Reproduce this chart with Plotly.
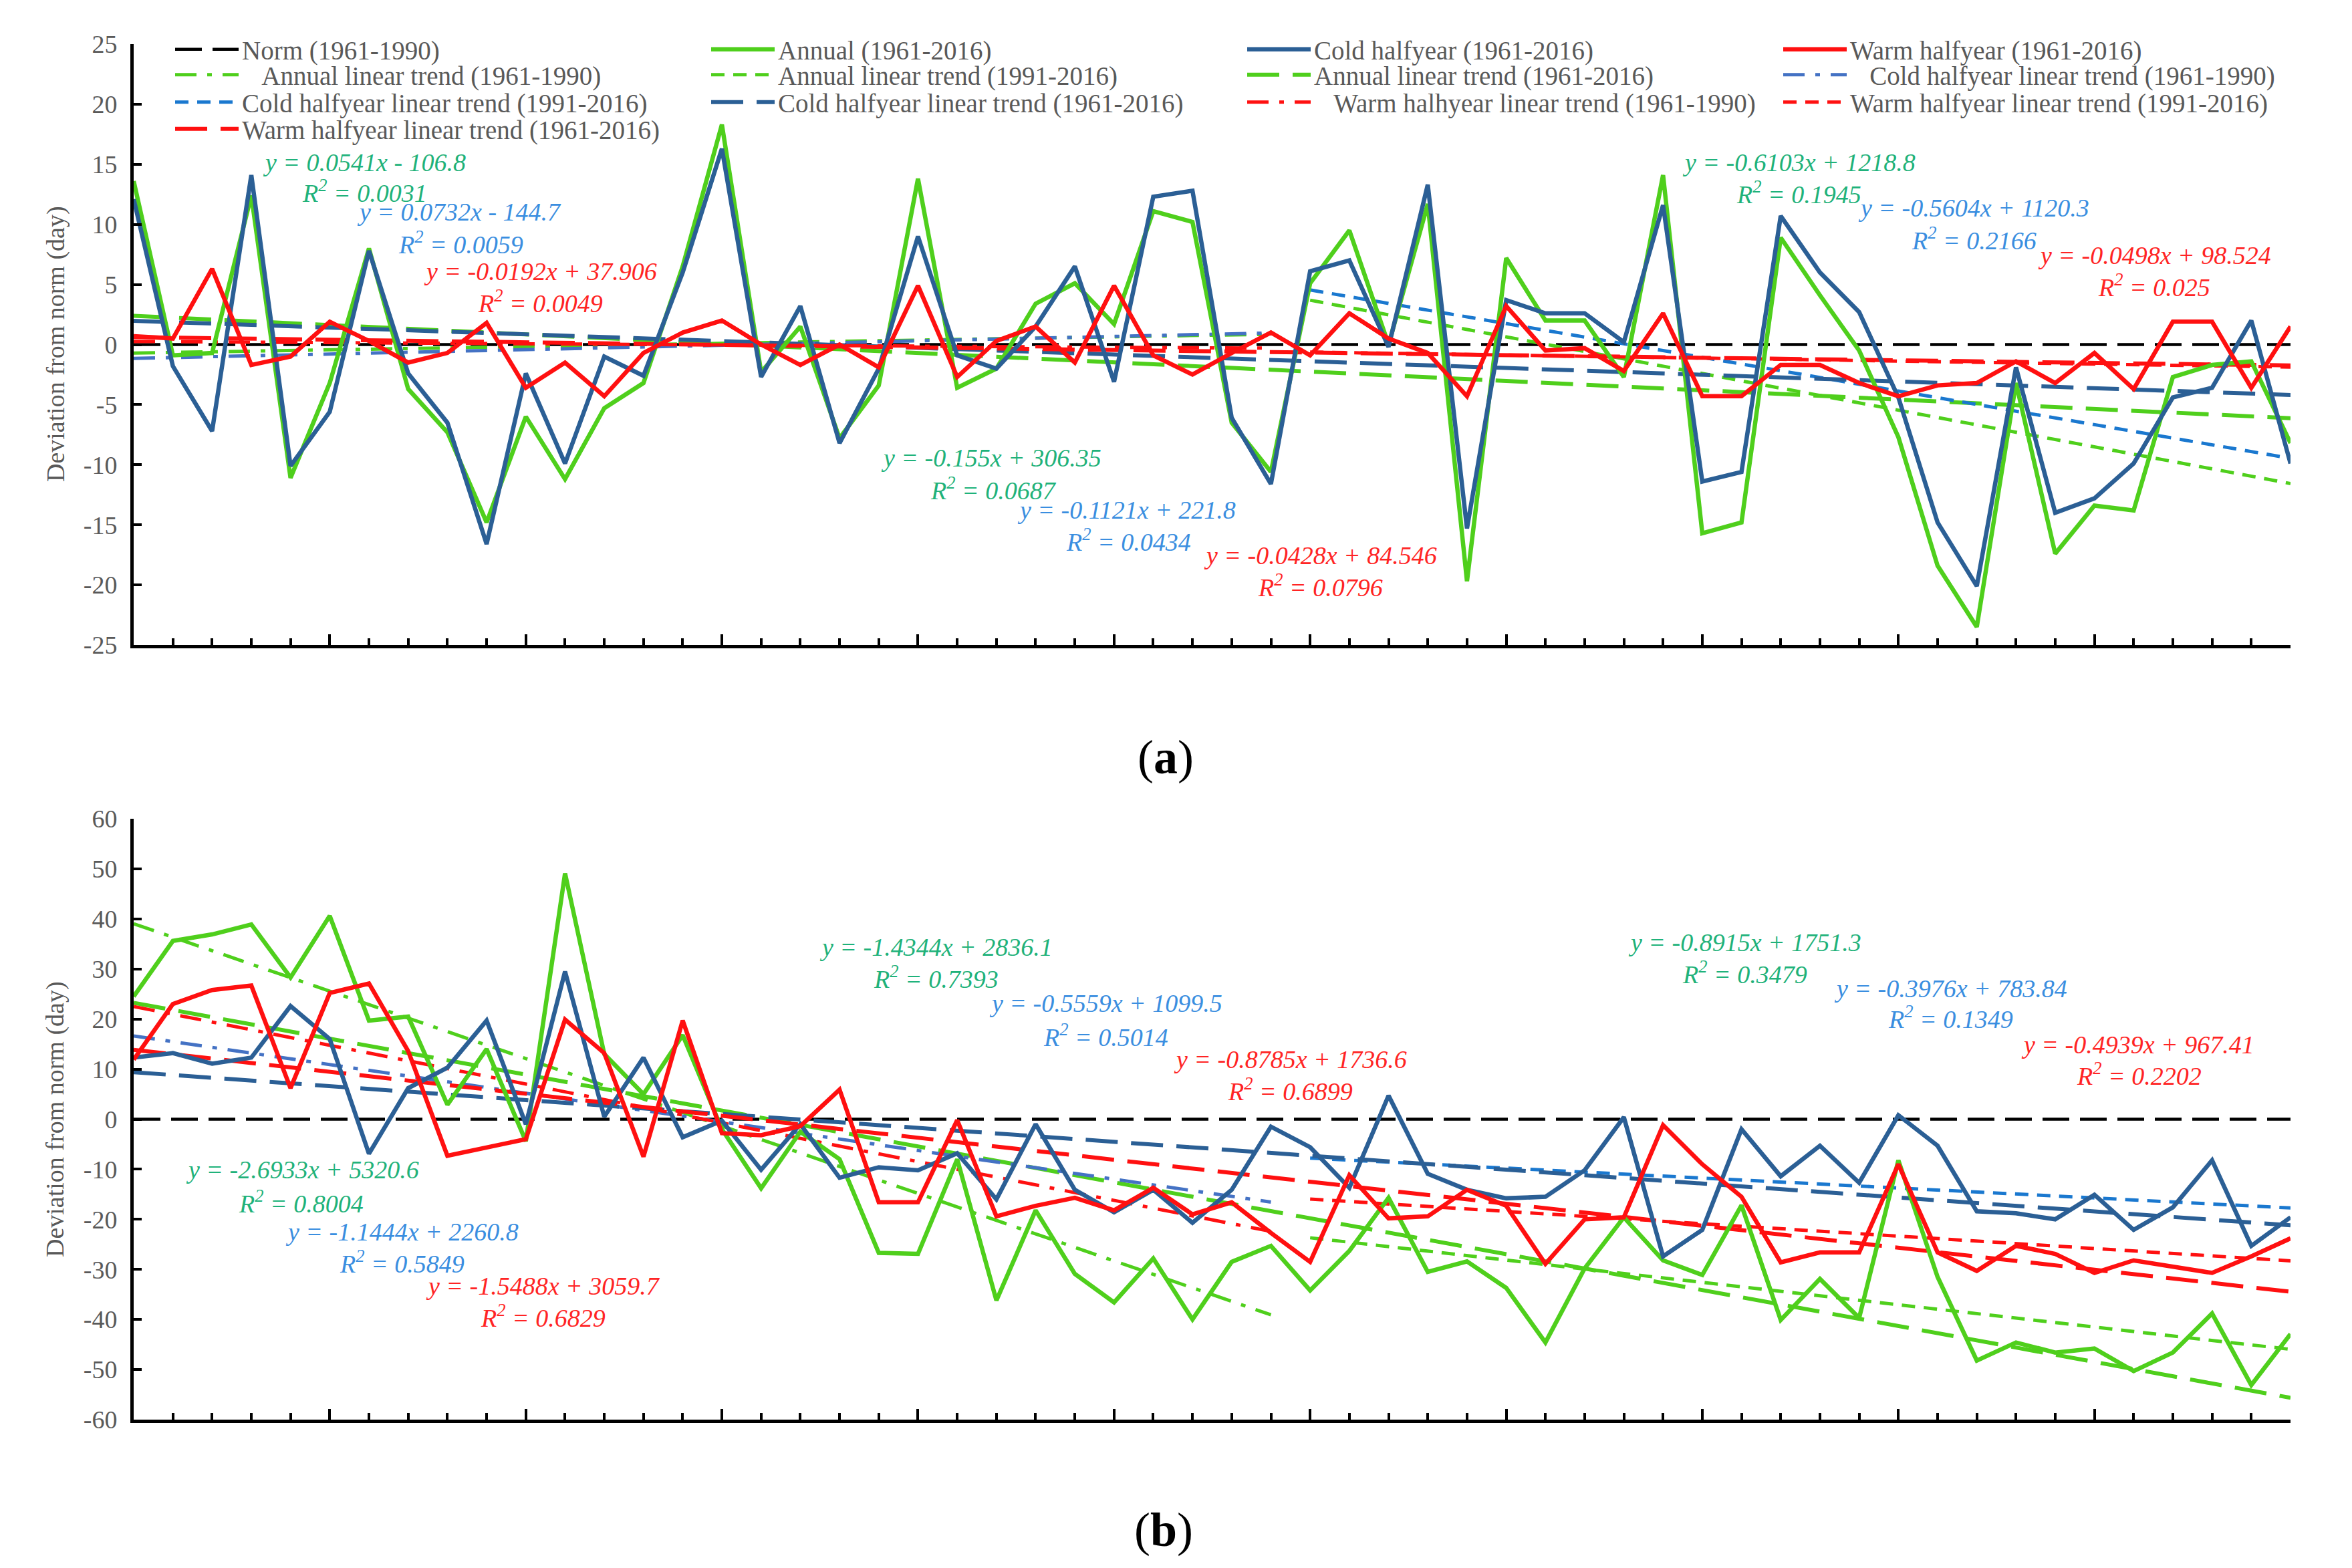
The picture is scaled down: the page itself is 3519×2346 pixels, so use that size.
import plotly.graph_objects as go

W, H = 3519, 2346

years = list(range(1961, 2017))

# ---------------- Panel (a) data ----------------
annual_a = [13.6, -0.9, -0.7, 12.4, -11.1, -3.2, 8.0, -3.7, -7.3, -14.8,
            -6.0, -11.2, -5.3, -3.2, 6.5, 18.3, -2.3, 1.5, -7.8, -3.4,
            13.8, -3.6, -2.0, 3.4, 5.1, 1.7, 11.1, 10.2, -6.5, -10.6,
            5.1, 9.5, 0.0, 11.7, -19.7, 7.2, 2.0, 2.0, -2.7, 14.1,
            -15.7, -14.8, 8.9, 4.1, -0.5, -7.7, -18.4, -23.5, -3.2, -17.4,
            -13.4, -13.8, -2.7, -1.7, -1.4, -8.2]
cold_a = [12.1, -1.8, -7.2, 14.1, -10.1, -5.6, 7.8, -2.4, -6.5, -16.6,
          -2.4, -9.9, -1.0, -2.6, 6.0, 16.3, -2.7, 3.2, -8.2, -2.0,
          9.0, -0.9, -2.0, 1.5, 6.5, -3.1, 12.3, 12.8, -6.1, -11.6,
          6.1, 7.0, -0.2, 13.3, -15.3, 3.7, 2.6, 2.6, 0.2, 11.6,
          -11.4, -10.6, 10.7, 6.0, 2.7, -4.4, -14.8, -20.1, -1.9, -14.0,
          -12.8, -9.9, -4.4, -3.6, 2.0, -9.9]
warm_a = [0.7, 0.5, 6.3, -1.7, -1.0, 1.9, 0.3, -1.5, -0.7, 1.8,
          -3.6, -1.5, -4.3, -0.7, 1.0, 2.0, 0.0, -1.7, 0.0, -1.9,
          4.9, -2.7, 0.3, 1.5, -1.5, 4.9, -0.9, -2.5, -0.7, 1.0,
          -0.9, 2.6, 0.5, -0.7, -4.3, 3.2, -0.5, -0.3, -2.2, 2.6,
          -4.3, -4.3, -1.7, -1.7, -3.2, -4.3, -3.4, -3.2, -1.4, -3.2,
          -0.7, -3.7, 1.9, 1.9, -3.6, 1.5]

# ---------------- Panel (b) data ----------------
annual_b = [24.5, 35.6, 36.9, 38.9, 28.3, 40.6, 19.7, 20.5, 2.9, 14.0,
            -4.4, 49.1, 13.0, 5.0, 16.8, -2.0, -13.8, -2.5, -8.0, -26.7,
            -26.9, -8.0, -36.2, -18.2, -30.9, -36.6, -27.8, -40.0, -28.5, -25.3,
            -34.2, -26.3, -15.7, -30.5, -28.4, -33.7, -44.6, -29.8, -19.6, -28.2,
            -31.1, -17.2, -40.1, -31.9, -39.7, -8.2, -31.5, -48.2, -44.6, -46.6,
            -45.8, -50.3, -46.6, -38.8, -53.1, -42.9]
cold_b = [12.3, 13.2, 11.1, 12.3, 22.6, 16.0, -6.9, 6.2, 10.3, 19.7,
          -1.0, 29.5, 0.5, 12.3, -3.6, -0.3, -10.1, -1.0, -11.7, -9.6,
          -10.2, -6.8, -16.0, -1.0, -14.1, -18.6, -14.1, -20.7, -14.1, -1.5,
          -5.6, -13.7, 4.7, -10.9, -14.1, -15.8, -15.5, -10.2, 0.4, -27.4,
          -22.1, -2.0, -11.4, -5.3, -12.7, 0.8, -5.3, -18.4, -18.8, -20.0,
          -15.1, -22.1, -17.6, -8.2, -25.3, -19.6]
warm_b = [11.9, 23.0, 25.8, 26.7, 6.2, 25.2, 27.1, 13.6, -7.3, -5.6,
          -4.0, 19.9, 13.2, -7.5, 19.7, -2.8, -3.2, -1.4, 5.9, -16.6,
          -16.6, -0.2, -19.4, -17.3, -15.7, -18.2, -13.7, -19.0, -16.6, -22.7,
          -28.5, -11.2, -19.8, -19.4, -14.1, -17.3, -28.9, -20.0, -19.6, -1.2,
          -9.0, -15.5, -28.6, -26.6, -26.6, -9.0, -26.6, -30.3, -25.3, -26.9,
          -30.7, -28.2, -29.4, -30.7, -27.4, -23.8]

# ---------------- Trend lines (slope, intercept, R2) ----------------
# order of periods: 1961-1990, 1991-2016, 1961-2016
periods = [(1961, 1990), (1991, 2016), (1961, 2016)]
a_annual_slope = [0.0541, -0.6103, -0.155]
a_annual_icpt = [-106.8, 1218.8, 306.35]
a_annual_r2 = ["0.0031", "0.1945", "0.0687"]
a_cold_slope = [0.0732, -0.5604, -0.1121]
a_cold_icpt = [-144.7, 1120.3, 221.8]
a_cold_r2 = ["0.0059", "0.2166", "0.0434"]
a_warm_slope = [-0.0192, -0.0498, -0.0428]
a_warm_icpt = [37.906, 98.524, 84.546]
a_warm_r2 = ["0.0049", "0.025", "0.0796"]

b_annual_slope = [-2.6933, -0.8915, -1.4344]
b_annual_icpt = [5320.6, 1751.3, 2836.1]
b_annual_r2 = ["0.8004", "0.3479", "0.7393"]
b_cold_slope = [-1.1444, -0.3976, -0.5559]
b_cold_icpt = [2260.8, 783.84, 1099.5]
b_cold_r2 = ["0.5849", "0.1349", "0.5014"]
b_warm_slope = [-1.5488, -0.4939, -0.8785]
b_warm_icpt = [3059.7, 967.41, 1736.6]
b_warm_r2 = ["0.6829", "0.2202", "0.6899"]

y_ticks_a = [-25, -20, -15, -10, -5, 0, 5, 10, 15, 20, 25]
y_ticktext_a = ["-25", "-20", "-15", "-10", "-5", "0", "5", "10", "15", "20", "25"]
y_ticks_b = [-60, -50, -40, -30, -20, -10, 0, 10, 20, 30, 40, 50, 60]
y_ticktext_b = ["-60", "-50", "-40", "-30", "-20", "-10", "0", "10", "20", "30", "40", "50", "60"]

names_data = ["Annual (1961-2016)", "Cold halfyear (1961-2016)", "Warm halfyear (1961-2016)"]
NB = "\u00a0\u00a0\u00a0"
names_trend = [
    [NB + "Annual linear trend (1961-1990)", "Annual linear trend (1991-2016)", "Annual linear trend (1961-2016)"],
    [NB + "Cold halfyear linear trend (1961-1990)", "Cold halfyear linear trend (1991-2016)", "Cold halfyear linear trend (1961-2016)"],
    [NB + "Warm halhyear linear trend (1961-1990)", "Warm halfyear linear trend (1991-2016)", "Warm halfyear linear trend (1961-2016)"],
]

# ---------------- styles ----------------
FONT = "Liberation Serif"
TXT = "#595959"
GREEN = "#4fcf1c"
DBLUE = "#2b5f95"
RED = "#ff1010"
trend_colors = [[GREEN, GREEN, GREEN], ["#4472c4", "#1a78cf", DBLUE], [RED, RED, RED]]
trend_dash = ["32px,16px,7px,16px", "20px,13px", "48px,20px"]
trend_width = [5, 5, 6]
eq_colors = ["#1fb27a", "#3a8ee0", "#ff2424"]

# legend row assignment (row legend id, rank within row)
legend_data = [("legend", 2), ("legend", 3), ("legend", 4)]
legend_trend = [
    [("legend2", 1), ("legend2", 2), ("legend2", 3)],
    [("legend2", 4), ("legend3", 1), ("legend3", 2)],
    [("legend3", 3), ("legend3", 4), ("legend4", 1)],
]

fig = go.Figure()

panels = [
    ("x", "y", [annual_a, cold_a, warm_a],
     [(a_annual_slope, a_annual_icpt, a_annual_r2), (a_cold_slope, a_cold_icpt, a_cold_r2),
      (a_warm_slope, a_warm_icpt, a_warm_r2)], True),
    ("x2", "y2", [annual_b, cold_b, warm_b],
     [(b_annual_slope, b_annual_icpt, b_annual_r2), (b_cold_slope, b_cold_icpt, b_cold_r2),
      (b_warm_slope, b_warm_icpt, b_warm_r2)], False),
]

for xa, ya, series, trends, show in panels:
    # norm line
    fig.add_trace(go.Scatter(x=[years[0], years[-1]], y=[0, 0], mode="lines", xaxis=xa, yaxis=ya,
                             line=dict(color="black", width=4.5, dash="40px,16px"),
                             name="Norm (1961-1990)", showlegend=show, legend="legend", legendrank=1))
    # trend lines
    for s, (slopes, icpts, r2s) in enumerate(trends):
        for p, (y0, y1) in enumerate(periods):
            xs = [y0, y1]
            ys = [slopes[p] * v + icpts[p] for v in xs]
            lg, rk = legend_trend[s][p]
            fig.add_trace(go.Scatter(x=xs, y=ys, mode="lines", xaxis=xa, yaxis=ya,
                                     line=dict(color=trend_colors[s][p], width=trend_width[p], dash=trend_dash[p]),
                                     name=names_trend[s][p], showlegend=show, legend=lg, legendrank=rk))
    # data series
    cols = [GREEN, DBLUE, RED]
    for s, vals in enumerate(series):
        lg, rk = legend_data[s]
        fig.add_trace(go.Scatter(x=years, y=vals, mode="lines", xaxis=xa, yaxis=ya,
                                 line=dict(color=cols[s], width=6.5),
                                 name=names_data[s], showlegend=show, legend=lg, legendrank=rk))

# ---------------- equations (annotations) ----------------
def eq_text(a, b):
    sign = "+" if b >= 0 else "-"
    return f"<i>y = {a}x {sign} {abs(b)}</i>"

# pixel centres [eq_x, eq_y, r2_x, r2_y] for each series/period
eq_pos_a = [
    [(545, 243, 545, 286), (2691, 243, 2691, 288), (1483, 685, 1486, 731)],
    [(687, 317, 689, 363), (2953, 311, 2953, 357), (1685, 763, 1688, 808)],
    [(808, 406, 808, 451), (3223, 382, 3223, 427), (1975, 831, 1975, 876)],
]
eq_pos_b = [
    [(452, 1750, 451, 1798), (2610, 1410, 2610, 1455), (1400, 1417, 1400, 1462)],
    [(601, 1843, 601, 1888), (2918, 1479, 2918, 1522), (1654, 1501, 1654, 1549)],
    [(812, 1924, 812, 1969), (3198, 1563, 3200, 1607), (1930, 1585, 1930, 1630)],
]

annotations = []
for trends, pos in [(panels[0][3], eq_pos_a), (panels[1][3], eq_pos_b)]:
    for s, (slopes, icpts, r2s) in enumerate(trends):
        for p in range(3):
            ex, ey, rx, ry = pos[s][p]
            f = dict(family=FONT, size=38, color=eq_colors[s])
            annotations.append(dict(x=ex / W, y=1 - ey / H, xref="paper", yref="paper",
                                    text=eq_text(slopes[p], icpts[p]), showarrow=False,
                                    xanchor="center", yanchor="middle", font=f))
            annotations.append(dict(x=rx / W, y=1 - ry / H, xref="paper", yref="paper",
                                    text=f"<i>R<sup>2</sup> = {r2s[p]}</i>", showarrow=False,
                                    xanchor="center", yanchor="middle", font=f))

# axis titles and panel labels
for yc in (515, 1675):
    annotations.append(dict(x=83 / W, y=1 - yc / H, xref="paper", yref="paper",
                            text="Deviation from norm (day)", textangle=-90, showarrow=False,
                            xanchor="center", yanchor="middle",
                            font=dict(family=FONT, size=38, color=TXT)))
for lab, (px, py) in [("a", (1744, 1133)), ("b", (1741, 2289))]:
    annotations.append(dict(x=px / W, y=1 - py / H, xref="paper", yref="paper",
                            text=f"(<b>{lab}</b>)", showarrow=False,
                            xanchor="center", yanchor="middle",
                            font=dict(family=FONT, size=72, color="black")))

x_dom = [200 / W, 3427 / W]
ya_dom = [1 - 965 / H, 1 - 66 / H]
yb_dom = [1 - 2124 / H, 1 - 1225 / H]

def xaxis(anchor):
    return dict(domain=x_dom, anchor=anchor, range=[years[0], years[-1]], showline=True,
                linecolor="black", linewidth=5, ticks="inside", tick0=years[0], dtick=5,
                ticklen=16, tickwidth=4, tickcolor="black", showticklabels=False,
                showgrid=False, zeroline=False, automargin=False,
                minor=dict(tick0=years[0], dtick=1, ticks="inside", ticklen=10,
                           tickwidth=4, tickcolor="black", showgrid=False))

def yaxis(anchor, dom, rng, tv, tt):
    return dict(domain=dom, anchor=anchor, range=rng, tickmode="array", tickvals=tv, ticktext=tt,
                showline=True, linecolor="black", linewidth=5, ticks="inside", ticklen=12,
                tickwidth=4, tickcolor="black", showgrid=False, zeroline=False, automargin=False,
                tickfont=dict(family=FONT, size=38, color=TXT), ticklabelstandoff=12)

legend_common = dict(orientation="h", itemwidth=95, entrywidth=692, entrywidthmode="pixels",
                     xref="paper", yref="paper", x=257 / W, xanchor="left", yanchor="middle",
                     bgcolor="rgba(0,0,0,0)", borderwidth=0, tracegroupgap=0,
                     font=dict(family=FONT, size=39, color=TXT), traceorder="normal")
legend_rows_y = [74, 112, 153, 193]

fig.update_layout(
    width=W, height=H, paper_bgcolor="white", plot_bgcolor="white",
    margin=dict(l=0, r=0, t=0, b=0, pad=0),
    font=dict(family=FONT, size=38, color=TXT),
    xaxis=xaxis("y"), yaxis=yaxis("x", ya_dom, [-25, 25], y_ticks_a, y_ticktext_a),
    xaxis2=xaxis("y2"), yaxis2=yaxis("x2", yb_dom, [-60, 60], y_ticks_b, y_ticktext_b),
    legend=dict(legend_common, y=1 - legend_rows_y[0] / H),
    legend2=dict(legend_common, y=1 - legend_rows_y[1] / H),
    legend3=dict(legend_common, y=1 - legend_rows_y[2] / H),
    legend4=dict(legend_common, y=1 - legend_rows_y[3] / H),
    annotations=annotations,
    showlegend=True,
)

fig.write_html("out.html")
